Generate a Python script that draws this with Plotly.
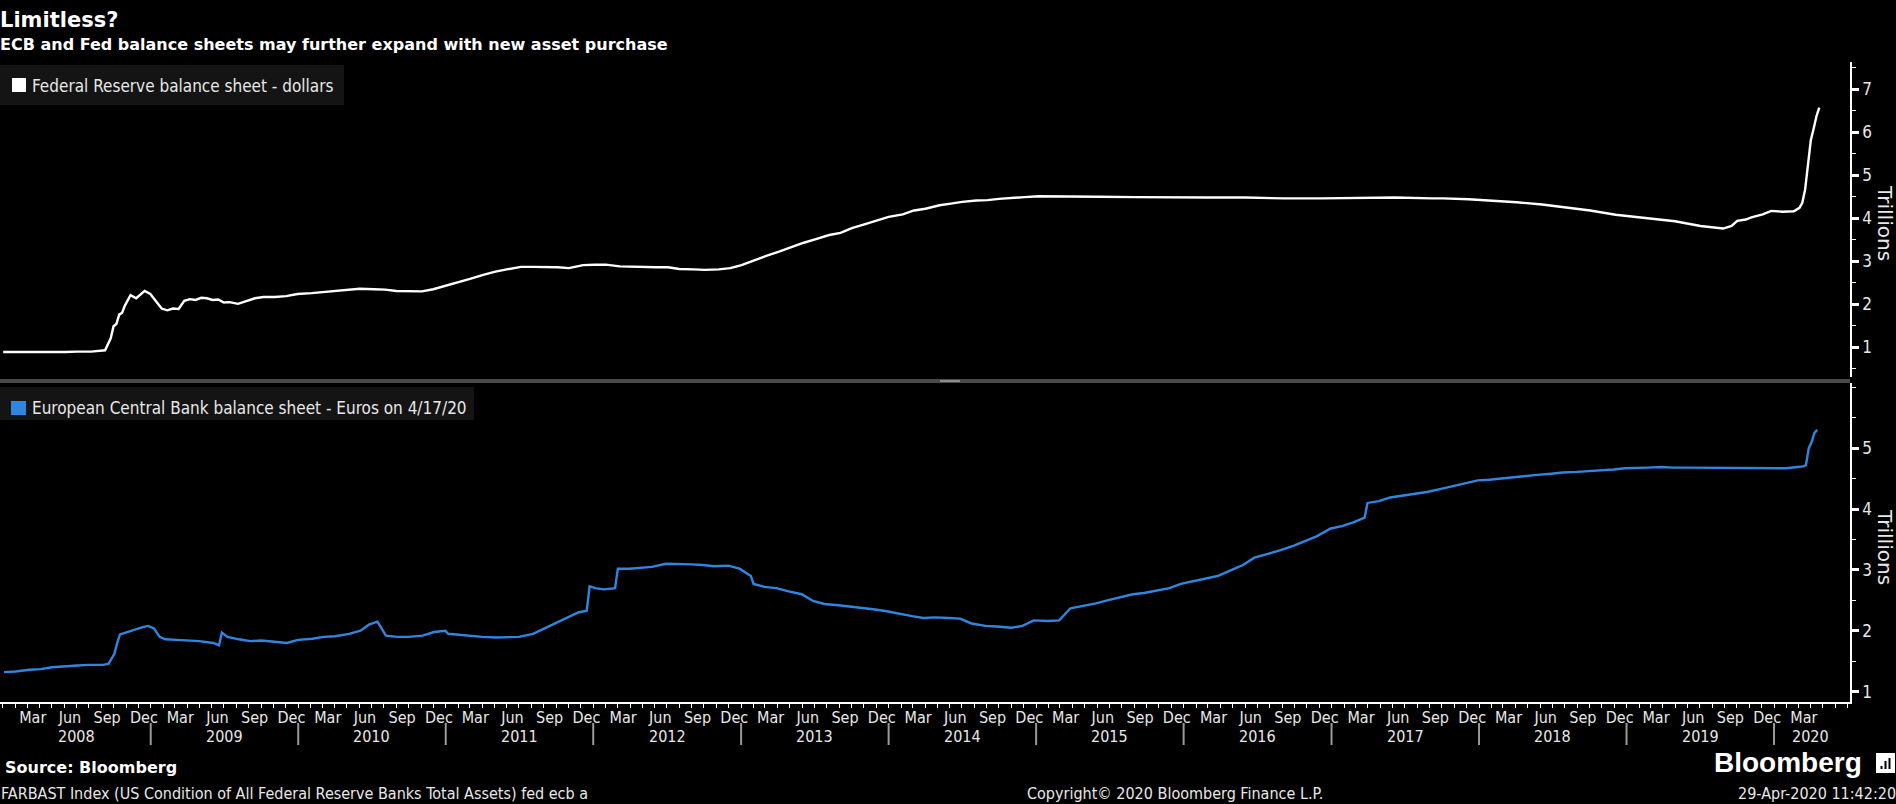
import plotly.graph_objects as go

# ---------------- data (trillions) ----------------
fed_dates = [
    "2008-01-02", "2008-02-06", "2008-03-05", "2008-04-02", "2008-05-07", "2008-06-04", "2008-07-02",
    "2008-08-06", "2008-09-10", "2008-09-17", "2008-09-24", "2008-10-01", "2008-10-08", "2008-10-15",
    "2008-10-22", "2008-10-29", "2008-11-12", "2008-11-26", "2008-12-17", "2008-12-31",
    "2009-01-14", "2009-01-28", "2009-02-11", "2009-02-25", "2009-03-11", "2009-03-25", "2009-04-08",
    "2009-04-22", "2009-05-06", "2009-05-20", "2009-06-03", "2009-06-17", "2009-07-01", "2009-07-15",
    "2009-08-05", "2009-08-26", "2009-09-16", "2009-10-07", "2009-11-04", "2009-12-02", "2009-12-30",
    "2010-02-03", "2010-03-03", "2010-04-07", "2010-05-05", "2010-06-02", "2010-07-07", "2010-08-04",
    "2010-09-01", "2010-10-06", "2010-11-03", "2010-12-01", "2010-12-29",
    "2011-02-02", "2011-03-02", "2011-04-06", "2011-05-04", "2011-06-01", "2011-07-06", "2011-08-03",
    "2011-09-07", "2011-10-05", "2011-11-02", "2011-12-07",
    "2012-01-04", "2012-02-01", "2012-03-07", "2012-04-04", "2012-05-02", "2012-06-06", "2012-07-04",
    "2012-08-01", "2012-09-05", "2012-10-03", "2012-11-07", "2012-12-05",
    "2013-01-02", "2013-02-06", "2013-03-06", "2013-04-03", "2013-05-01", "2013-06-05", "2013-07-03",
    "2013-08-07", "2013-09-04", "2013-10-02", "2013-11-06", "2013-12-04",
    "2014-01-01", "2014-02-05", "2014-03-05", "2014-04-02", "2014-05-07", "2014-06-04", "2014-07-02",
    "2014-08-06", "2014-09-03", "2014-10-01", "2014-11-05", "2014-12-03",
    "2015-01-07", "2015-03-04", "2015-06-03", "2015-09-02", "2015-12-02",
    "2016-03-02", "2016-06-01", "2016-09-07", "2016-12-07",
    "2017-03-01", "2017-06-07", "2017-09-06", "2017-10-04", "2017-12-06",
    "2018-02-07", "2018-04-04", "2018-06-06", "2018-08-01", "2018-10-03", "2018-12-05",
    "2019-01-02", "2019-03-06", "2019-05-01", "2019-07-03", "2019-08-28", "2019-09-18", "2019-10-02",
    "2019-10-23", "2019-11-06", "2019-12-04", "2019-12-25",
    "2020-01-22", "2020-02-19", "2020-03-04", "2020-03-11", "2020-03-18", "2020-03-25", "2020-04-01",
    "2020-04-08", "2020-04-15", "2020-04-22",
]
fed_values = [
    0.89, 0.89, 0.89, 0.88, 0.89, 0.89, 0.90,
    0.90, 0.93, 1.07, 1.21, 1.49, 1.54, 1.76,
    1.80, 1.97, 2.21, 2.14, 2.31, 2.24,
    2.07, 1.90, 1.86, 1.90, 1.89, 2.08, 2.12,
    2.10, 2.15, 2.14, 2.10, 2.11, 2.04, 2.05,
    2.01, 2.08, 2.14, 2.17, 2.17, 2.19, 2.24,
    2.26, 2.28, 2.32, 2.33, 2.36, 2.35, 2.34,
    2.31, 2.30, 2.30, 2.35, 2.42,
    2.51, 2.59, 2.69, 2.76, 2.81, 2.87, 2.87,
    2.87, 2.86, 2.84, 2.91,
    2.92, 2.92, 2.88, 2.87, 2.87, 2.86, 2.86,
    2.82, 2.81, 2.80, 2.81, 2.84,
    2.91, 3.04, 3.13, 3.22, 3.32, 3.43, 3.51,
    3.61, 3.66, 3.77, 3.87, 3.95,
    4.03, 4.09, 4.18, 4.22, 4.30, 4.34, 4.38,
    4.41, 4.42, 4.45, 4.48, 4.49,
    4.51, 4.50, 4.50, 4.49, 4.48,
    4.48, 4.48, 4.46, 4.46,
    4.47, 4.48, 4.46, 4.46, 4.44,
    4.41, 4.37, 4.32, 4.26, 4.18, 4.08,
    4.05, 4.00, 3.93, 3.82, 3.76, 3.82, 3.94,
    3.97, 4.02, 4.09, 4.17,
    4.15, 4.16, 4.24, 4.36, 4.67, 5.25, 5.81,
    6.08, 6.37, 6.57,
]

ecb_dates = [
    "2008-01-04", "2008-02-01", "2008-03-07", "2008-04-04", "2008-05-02", "2008-06-06", "2008-07-04",
    "2008-08-01", "2008-09-05", "2008-09-19", "2008-10-03", "2008-10-10", "2008-10-17", "2008-10-31",
    "2008-11-14", "2008-11-28", "2008-12-12", "2008-12-26",
    "2009-01-09", "2009-01-23", "2009-02-06", "2009-03-06", "2009-04-03", "2009-05-01", "2009-06-05",
    "2009-06-19", "2009-06-26", "2009-07-10", "2009-08-07", "2009-09-04", "2009-10-02", "2009-11-06",
    "2009-12-04", "2009-12-31",
    "2010-02-05", "2010-03-05", "2010-04-02", "2010-05-07", "2010-06-04", "2010-06-25", "2010-07-02",
    "2010-07-16", "2010-08-06", "2010-09-03", "2010-10-01", "2010-11-05", "2010-12-03", "2010-12-31",
    "2011-01-07", "2011-02-04", "2011-03-04", "2011-04-01", "2011-05-06", "2011-06-03", "2011-07-01",
    "2011-08-05", "2011-09-02", "2011-10-07", "2011-10-28", "2011-11-25", "2011-12-16", "2011-12-23",
    "2012-01-06", "2012-01-27", "2012-02-24", "2012-03-02", "2012-03-30", "2012-04-27", "2012-05-25",
    "2012-06-29", "2012-07-27", "2012-08-31", "2012-09-28", "2012-10-26", "2012-11-30", "2012-12-28",
    "2013-01-25", "2013-02-01", "2013-02-28", "2013-03-29", "2013-04-26", "2013-05-31", "2013-06-28",
    "2013-07-26", "2013-08-30", "2013-09-27", "2013-10-25", "2013-11-29", "2013-12-27",
    "2014-01-31", "2014-02-28", "2014-03-28", "2014-04-25", "2014-05-30", "2014-06-27", "2014-07-25",
    "2014-08-29", "2014-09-26", "2014-10-31", "2014-11-28", "2014-12-26",
    "2015-01-30", "2015-02-27", "2015-03-27", "2015-04-24", "2015-05-29", "2015-06-26", "2015-07-31",
    "2015-08-28", "2015-09-25", "2015-10-30", "2015-11-27", "2015-12-25",
    "2016-01-29", "2016-02-26", "2016-03-25", "2016-04-29", "2016-05-27", "2016-06-24", "2016-07-29",
    "2016-08-26", "2016-09-30", "2016-10-28", "2016-11-25", "2016-12-30",
    "2017-01-27", "2017-02-24", "2017-03-24", "2017-03-31", "2017-04-28", "2017-05-26", "2017-06-30",
    "2017-07-28", "2017-08-25", "2017-09-29", "2017-10-27", "2017-11-24", "2017-12-29",
    "2018-01-26", "2018-02-23", "2018-03-30", "2018-04-27", "2018-05-25", "2018-06-29", "2018-07-27",
    "2018-08-31", "2018-09-28", "2018-10-26", "2018-11-30", "2018-12-28",
    "2019-01-25", "2019-02-22", "2019-03-29", "2019-04-26", "2019-05-31", "2019-06-28", "2019-07-26",
    "2019-08-30", "2019-09-27", "2019-10-25", "2019-11-29", "2019-12-27",
    "2020-01-31", "2020-02-28", "2020-03-13", "2020-03-20", "2020-03-27", "2020-04-03", "2020-04-10",
    "2020-04-17",
]
ecb_values = [
    1.32, 1.33, 1.36, 1.37, 1.40, 1.41, 1.43,
    1.44, 1.44, 1.46, 1.62, 1.80, 1.94, 1.97,
    2.00, 2.04, 2.06, 2.08,
    2.04, 1.90, 1.86, 1.85, 1.84, 1.83, 1.80,
    1.76, 1.97, 1.90, 1.86, 1.83, 1.84, 1.82,
    1.80, 1.85,
    1.87, 1.90, 1.91, 1.95, 2.00, 2.10, 2.12,
    2.15, 1.92, 1.90, 1.90, 1.92, 1.98, 2.00,
    1.95, 1.93, 1.92, 1.90, 1.89, 1.90, 1.90,
    1.95, 2.04, 2.15, 2.22, 2.30, 2.33, 2.73,
    2.70, 2.68, 2.70, 3.02, 3.02, 3.04, 3.05,
    3.10, 3.10, 3.09, 3.08, 3.06, 3.07, 3.02,
    2.90, 2.77, 2.72, 2.70, 2.65, 2.60, 2.49,
    2.44, 2.42, 2.40, 2.38, 2.35, 2.32,
    2.27, 2.24, 2.21, 2.22, 2.21, 2.20, 2.12,
    2.08, 2.07, 2.05, 2.08, 2.17,
    2.16, 2.17, 2.37, 2.40, 2.45, 2.50, 2.55,
    2.60, 2.62, 2.66, 2.70, 2.77,
    2.82, 2.86, 2.90, 3.00, 3.08, 3.20, 3.26,
    3.32, 3.40, 3.48, 3.55, 3.68,
    3.72, 3.78, 3.86, 4.10, 4.13, 4.19, 4.22,
    4.25, 4.28, 4.33, 4.37, 4.42, 4.47,
    4.48, 4.50, 4.52, 4.55, 4.56, 4.58, 4.60,
    4.61, 4.62, 4.64, 4.65, 4.67,
    4.68, 4.68, 4.69, 4.68, 4.68, 4.68, 4.67,
    4.67, 4.67, 4.67, 4.67, 4.68,
    4.67, 4.69, 4.70, 4.72, 5.00, 5.10, 5.25,
    5.30,
]

years = list(range(2008, 2021))
quarter_months = [("Mar", 3), ("Jun", 6), ("Sep", 9), ("Dec", 12)]
last_month = ("2020", 3)
fed_ticks = [1, 2, 3, 4, 5, 6, 7]
ecb_ticks = [1, 2, 3, 4, 5]

title = "Limitless?"
subtitle = "ECB and Fed balance sheets may further expand with new asset purchase"
fed_name = "Federal Reserve balance sheet - dollars"
ecb_name = "European Central Bank balance sheet - Euros on 4/17/20"

# ---------------- geometry helpers ----------------
W, H = 1896, 804
L, R, T, B = 0, 46, 62, 102
PW, PH = W - L - R, H - T - B


def fx(x):
    return (x - L) / PW


def fy(y):
    return (H - B - y) / PH


NARROW = "Liberation Sans Narrow, Arial Narrow, DejaVu Sans Condensed, sans-serif"
BOLD = "DejaVu Sans, Verdana, sans-serif"
WHITE = "#ffffff"
TXT = "#e8e8e8"
BLUE = "#2f86e0"

# tick labels for x axis
tickvals, ticktext = [], []
for y in years:
    for name, m in quarter_months:
        if y == 2020 and m > last_month[1]:
            continue
        tickvals.append(f"{y}-{m:02d}-15")
        ticktext.append(name)

fig = go.Figure()
fig.add_trace(go.Scatter(x=fed_dates, y=fed_values, mode="lines", name=fed_name,
                         line=dict(color=WHITE, width=2.4), xaxis="x", yaxis="y"))
fig.add_trace(go.Scatter(x=ecb_dates, y=ecb_values, mode="lines", name=ecb_name,
                         line=dict(color=BLUE, width=2.4), xaxis="x2", yaxis="y2"))

xrange = ["2007-12-25", "2020-07-07"]
yax_common = dict(
    side="right", showgrid=False, zeroline=False, showline=True, linecolor=WHITE, linewidth=1.5,
    ticks="outside", ticklen=7, tickwidth=3, tickcolor=WHITE,
    tickfont=dict(family=NARROW, size=17, color=TXT),
    minor=dict(ticks="outside", ticklen=4, tickwidth=1, tickcolor=WHITE, dtick=0.5),
)

fig.update_layout(
    width=W, height=H,
    margin=dict(l=L, r=R, t=T, b=B),
    paper_bgcolor="#000000", plot_bgcolor="#000000",
    showlegend=False,
    xaxis=dict(domain=[0, 1], anchor="y", range=xrange, visible=False, matches="x2"),
    xaxis2=dict(domain=[0, 1], anchor="y2", range=xrange, showgrid=False, zeroline=False,
                showline=True, linecolor=WHITE, linewidth=1.5,
                tickmode="array", tickvals=tickvals, ticktext=ticktext, ticks="",
                tickfont=dict(family=NARROW, size=16, color=TXT),
                minor=dict(ticks="outside", ticklen=4, tickwidth=1, tickcolor=WHITE,
                           dtick="M1", tick0="2008-01-01")),
    yaxis=dict(domain=[fy(377), 1], anchor="x", range=[0.31, 7.63],
               tickmode="array", tickvals=fed_ticks, **yax_common),
    yaxis2=dict(domain=[0, fy(383)], anchor="x2", range=[0.83, 6.07],
                tickmode="array", tickvals=ecb_ticks, **yax_common),
)

shapes = []
# legend boxes
shapes.append(dict(type="rect", xref="paper", yref="paper", x0=fx(0), x1=fx(344), y0=fy(105), y1=fy(65),
                   fillcolor="#141414", line=dict(width=0), layer="below"))
shapes.append(dict(type="rect", xref="paper", yref="paper", x0=fx(12), x1=fx(26), y0=fy(92), y1=fy(78),
                   fillcolor=WHITE, line=dict(width=0)))
shapes.append(dict(type="rect", xref="paper", yref="paper", x0=fx(0), x1=fx(474), y0=fy(420), y1=fy(387),
                   fillcolor="#141414", line=dict(width=0), layer="below"))
shapes.append(dict(type="rect", xref="paper", yref="paper", x0=fx(11), x1=fx(26), y0=fy(415), y1=fy(401),
                   fillcolor=BLUE, line=dict(width=0)))
# splitter bar between panels
shapes.append(dict(type="rect", xref="paper", yref="paper", x0=fx(0), x1=fx(1850), y0=fy(383), y1=fy(379),
                   fillcolor="#4a4a4a", line=dict(width=0)))
shapes.append(dict(type="rect", xref="paper", yref="paper", x0=fx(940), x1=fx(960), y0=fy(382), y1=fy(380),
                   fillcolor="#8c8c8c", line=dict(width=0)))
# year separators
for y in years[1:]:
    shapes.append(dict(type="line", xref="x2", yref="paper", x0=f"{y}-01-01", x1=f"{y}-01-01",
                       y0=fy(745), y1=fy(723), line=dict(color="#9a9a9a", width=2)))
# Bloomberg icon
shapes.append(dict(type="rect", xref="paper", yref="paper", x0=fx(1876), x1=fx(1895), y0=fy(773), y1=fy(753),
                   fillcolor=WHITE, line=dict(width=0)))
for bx0, bx1, top in [(1880.5, 1882.5, 766), (1884.5, 1886.5, 761), (1888.5, 1890.5, 758)]:
    shapes.append(dict(type="rect", xref="paper", yref="paper", x0=fx(bx0), x1=fx(bx1), y0=fy(769), y1=fy(top),
                       fillcolor="#000000", line=dict(width=0)))
fig.update_layout(shapes=shapes)

ann = []


def add_text(text, x, y, xanchor="left", size=16, family=NARROW, color=TXT, xref="paper", angle=0):
    ann.append(dict(text=text, x=(fx(x) if xref == "paper" else x), y=fy(y), xref=xref, yref="paper",
                    xanchor=xanchor, yanchor="middle", showarrow=False, textangle=angle,
                    font=dict(family=family, size=size, color=color)))


add_text(f"<b>{title}</b>", -2, 20, size=21, family=BOLD, color=WHITE)
add_text(f"<b>{subtitle}</b>", -2, 44, size=16, family=BOLD, color=WHITE)
add_text(fed_name, 30, 86, size=17)
add_text(ecb_name, 30, 408, size=17)
add_text("Trillions", 1885, 223, xanchor="center", size=20, family="DejaVu Sans, sans-serif", angle=90)
add_text("Trillions", 1885, 547, xanchor="center", size=20, family="DejaVu Sans, sans-serif", angle=90)
for y in years:
    xc = f"{y}-07-02" if y < 2020 else "2020-04-01"
    add_text(str(y), xc, 736, xanchor="center", size=16, xref="x2")
add_text("<b>Source: Bloomberg</b>", 3, 767, size=16, family=BOLD, color=WHITE)
add_text("FARBAST Index (US Condition of All Federal Reserve Banks Total Assets) fed ecb a", -1, 793, size=16)
add_text("Copyright\u00a9 2020 Bloomberg Finance L.P.", 1175, 793, xanchor="center", size=16)
add_text("29-Apr-2020 11:42:20", 1898, 793, xanchor="right", size=16)
add_text("<b>Bloomberg</b>", 1864, 762, xanchor="right", size=28,
         family="Liberation Sans, Arial, sans-serif", color=WHITE)
fig.update_layout(annotations=ann)

fig.write_html("out.html", config={"displayModeBar": False},
               post_script="document.body.style.margin='0';document.body.style.overflow='hidden';")
